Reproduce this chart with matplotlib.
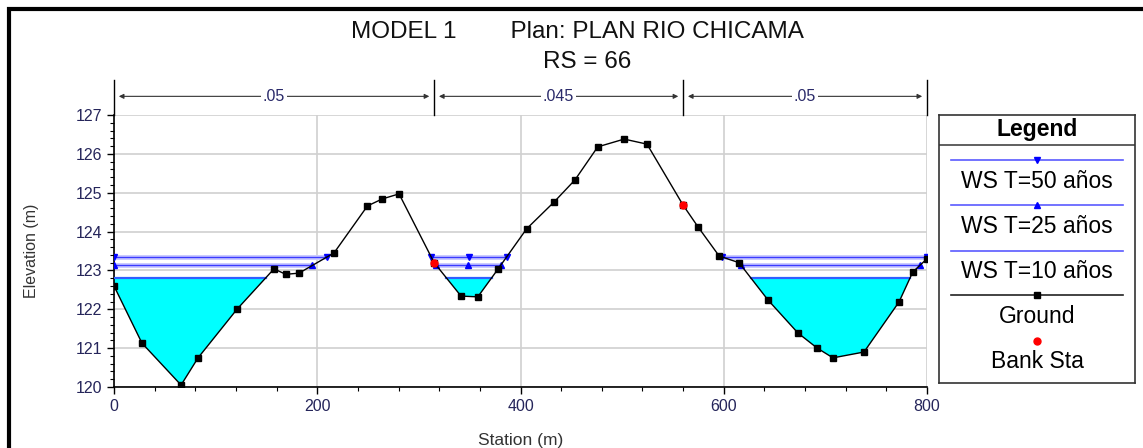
import numpy as np
import matplotlib.pyplot as plt
from matplotlib.patches import Rectangle

plt.rcParams['font.family'] = ['Liberation Sans', 'DejaVu Sans']

# ground profile (station, elevation) incl. bank stations
station = [0, 27.5, 66, 82.7, 121, 157.4, 169, 182, 216.5, 249.4, 264, 280.5,
           315, 341.5, 358, 378, 406, 433, 453.6, 476, 502, 524.5, 560,
           574.7, 595.5, 615, 643.5, 673, 692, 707.5, 738, 772.5, 786, 800]
elevation = [122.6, 121.13, 120.05, 120.75, 122.0, 123.04, 122.9, 122.93,
             123.45, 124.66, 124.84, 124.97, 123.2, 122.34, 122.32, 123.04,
             124.07, 124.76, 125.33, 126.18, 126.38, 126.25, 124.68, 124.12,
             123.37, 123.2, 122.24, 121.39, 121.0, 120.75, 120.9, 122.19,
             122.96, 123.3]
bank_sta = [315, 560]
bank_elev = [123.2, 124.68]

ws_labels = ['WS T=50 años', 'WS T=25 años', 'WS T=10 años']
ws_levels = [123.35, 123.13, 122.81]

n_breaks = [0, 315, 560, 800]
n_values = ['.05', '.045', '.05']

gx = np.array(station)
gy = np.array(elevation)


def wet_segments(level):
    segs = []
    start = None
    for i in range(len(gx)):
        below = gy[i] < level
        if i > 0:
            xc = gx[i-1] + (level - gy[i-1]) / (gy[i] - gy[i-1]) * (gx[i] - gx[i-1])
        if below and start is None:
            start = gx[0] if i == 0 else xc
        elif not below and start is not None:
            segs.append((start, xc))
            start = None
    if start is not None:
        segs.append((start, gx[-1]))
    return segs


fig = plt.figure(figsize=(11.43, 4.48), dpi=100)
ax = fig.add_axes([114/1143, 1-387/448, (927-114)/1143, (387-115)/448])

# lowest WS filled
ws10 = ws_levels[2]
ax.fill_between(gx, gy, ws10, where=gy < ws10, interpolate=True,
                color='#00ffff', lw=0, zorder=2)
for a, b in wet_segments(ws10):
    ax.plot([a, b], [ws10, ws10], color='#3060ff', lw=1.6, zorder=3)

# WS 50 and 25 lines with markers
for lev, mk in [(ws_levels[0], 'v'), (ws_levels[1], '^')]:
    for a, b in wet_segments(lev):
        xs = [a, b] if b - a > 100 else [a, (a + b) / 2, b]
        ax.plot(xs, [lev]*len(xs), color='#c8c8ff', lw=3.5, zorder=3,
                solid_capstyle='butt')
        ax.plot(xs, [lev]*len(xs), color='#3a3aff', lw=1.0, zorder=4,
                marker=mk, ms=5, mfc='#0000ff', mec='#0000ff')

ax.plot(gx, gy, color='black', lw=1.0, marker='s', ms=4.8, zorder=5)
ax.plot(bank_sta, bank_elev, ls='none', marker='o', ms=5, color='red', zorder=6)

ax.set_xlim(0, 800)
ax.set_ylim(120, 127)
ax.set_xticks(np.arange(0, 801, 200))
ax.set_xticks(np.arange(0, 801, 40), minor=True)
ax.set_yticks(np.arange(120, 128, 1))
ax.set_yticks(np.arange(120, 127.01, 0.2), minor=True)
ax.grid(True, which='major', color='#d0d0d0', lw=1.2)
ax.set_axisbelow(True)
for s in ['top', 'right']:
    ax.spines[s].set_visible(False)
for s in ['left', 'bottom']:
    ax.spines[s].set_linewidth(1.2)
ax.tick_params(which='major', direction='out', length=5, labelsize=11.5,
               labelcolor='#25255a', width=1)
ax.tick_params(which='minor', direction='out', length=3, width=0.8)
ax.set_xlabel('Station (m)', fontsize=12.5, color='#333333', labelpad=14)
ax.set_ylabel('Elevation (m)', fontsize=11.5, color='#333333', labelpad=26)

# Manning's n bar
ytop = 127.9
yarr = 127.48
for xb in n_breaks:
    ax.plot([xb, xb], [127, ytop], color='black', lw=1, clip_on=False)
for i, lab in enumerate(n_values):
    x0, x1 = n_breaks[i], n_breaks[i+1]
    ax.annotate('', xy=(x0 + 2, yarr), xytext=(x1 - 2, yarr),
                arrowprops=dict(arrowstyle='<|-|>', color='#333333', lw=0.8,
                                mutation_scale=7), annotation_clip=False)
    ax.text((x0 + x1) / 2, yarr, lab, ha='center', va='center', fontsize=11.5,
            color='#2a2a6a', bbox=dict(fc='white', ec='none', pad=1.5),
            clip_on=False)

fig.text(577/1143, 1-32/448, 'MODEL 1        Plan: PLAN RIO CHICAMA',
         ha='center', va='center', fontsize=17.5, color='#111111')
fig.text(587/1143, 1-62/448, 'RS = 66', ha='center', va='center',
         fontsize=17.5, color='#111111')

# legend panel
lg = fig.add_axes([939/1143, 1-383/448, (1135-939)/1143, (383-115)/448])
lg.set_xlim(939, 1135)
lg.set_ylim(383, 115)
lg.set_xticks([])
lg.set_yticks([])
for s in lg.spines.values():
    s.set_linewidth(1.2)
    s.set_color('#333333')
lg.text(1037, 129, 'Legend', ha='center', va='center', fontsize=16.5,
        fontweight='bold')
lg.plot([939, 1135], [145, 145], color='#444444', lw=1.2)
xl = [951, 1037, 1123]
legend_rows = [
    (160, 181, ws_labels[0], '#5a5aff', 'v', '#0000ff'),
    (205, 226, ws_labels[1], '#5a5aff', '^', '#0000ff'),
    (251, 271, ws_labels[2], '#5a5aff', None, None),
    (295, 316, 'Ground', '#222222', 's', 'black'),
]
for yl, yt, lab, lc, mk, mc in legend_rows:
    lg.plot(xl, [yl]*3, color=lc, lw=1.2, marker=mk, markevery=[1],
            ms=5, mfc=mc, mec=mc)
    lg.text(1037, yt, lab, ha='center', va='center', fontsize=16.5)
lg.plot([1037], [341], ls='none', marker='o', ms=5, color='red')
lg.text(1037, 361, 'Bank Sta', ha='center', va='center', fontsize=16.5)

# outer frame
fig.patches.append(Rectangle((8.5/1143, -0.2), 1.2, 1.2 - 9/448,
                             transform=fig.transFigure, fill=False,
                             ec='black', lw=3))

fig.savefig('out.png', dpi=100)
